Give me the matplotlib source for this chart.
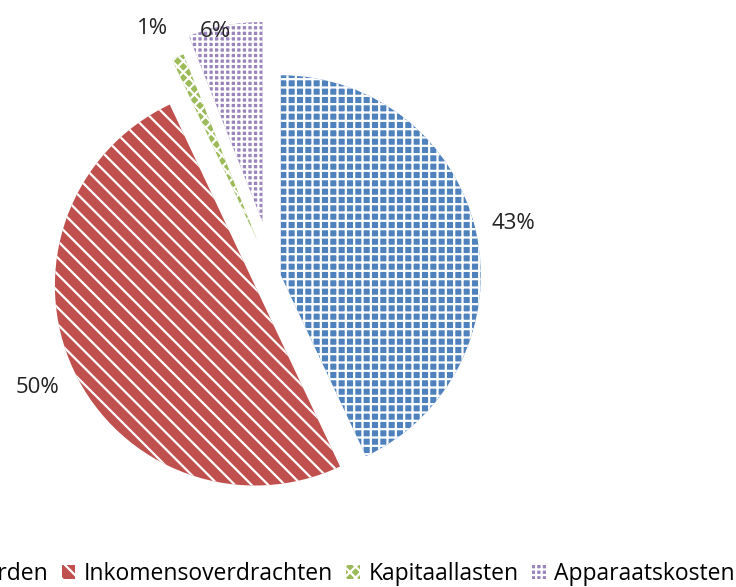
import matplotlib
matplotlib.use("Agg")
import numpy as np
import matplotlib.pyplot as plt
from matplotlib.patches import Patch

categories = ["Bijdragen aan derden", "Inkomensoverdrachten", "Kapitaallasten", "Apparaatskosten"]
shares = [43, 50, 1, 6]
pct_labels = ["43%", "50%", "1%", "6%"]

colors = ["#4f81bd", "#c0504d", "#9bbb59", "#9a84bc"]
hatches = ["++", "\\\\", "xxx", "+++"]
explode = [0.04, 0.10, 0.20, 0.28]
label_dist = [1.19, 1.20, 1.18, 0.98]
label_turn = [0, 0, 3, 3]  # degrees

plt.rcParams["font.family"] = ["Open Sans", "DejaVu Sans"]
plt.rcParams["hatch.linewidth"] = 1.6

fig = plt.figure(figsize=(7.36, 5.87), dpi=100)
ax = fig.add_axes([0, 0, 1, 1])

wedges, _ = ax.pie(shares, colors=colors, explode=explode, startangle=90,
                   counterclock=False, wedgeprops=dict(linewidth=0))
for w, h in zip(wedges, hatches):
    w.set_hatch(h)
    w.set_edgecolor("white")
    w.set_linewidth(0)

# percentage labels placed along each wedge's middle angle
for w, txt, d, t in zip(wedges, pct_labels, label_dist, label_turn):
    mid = np.deg2rad((w.theta1 + w.theta2) / 2 + t)
    cx, cy = w.center
    ax.text(cx + d * np.cos(mid), cy + d * np.sin(mid), txt, ha="center", va="center",
            fontsize=16, color="#222222")

# pixel scale: 200 px per unit, pie centre at (273, 277) px
ax.set_xlim(-273 / 200, (736 - 273) / 200)
ax.set_ylim(-(587 - 277) / 200, 277 / 200)
ax.set_aspect("auto")
ax.axis("off")

handles = [Patch(facecolor=c, hatch=h, edgecolor="white", linewidth=0) for c, h in zip(colors, hatches)]
fig.legend(handles, categories, loc="center right", bbox_to_anchor=(0.998, 0.022),
           ncol=4, frameon=False, fontsize=16.5, handlelength=0.6, handleheight=0.6,
           handletextpad=0.35, columnspacing=0.6, borderpad=0, borderaxespad=0)

fig.savefig("out.png", dpi=100)
